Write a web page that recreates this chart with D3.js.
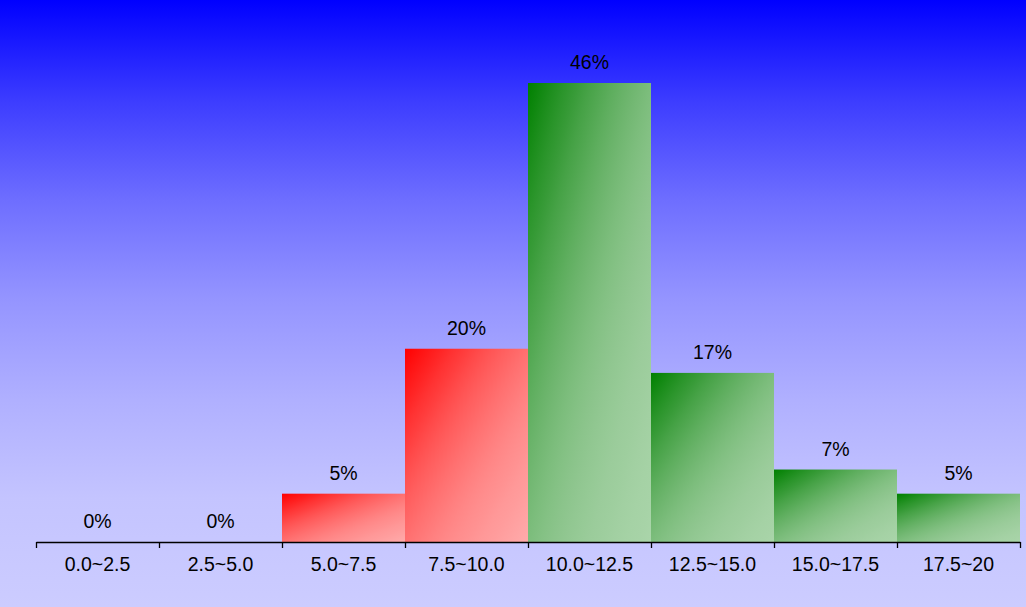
<!DOCTYPE html>
<html>
<head>
<meta charset="utf-8">
<script src="https://cdn.jsdelivr.net/npm/d3@7"></script>
<style>
html,body{margin:0;padding:0;overflow:hidden;}
svg{display:block;font-family:"Liberation Sans",Arial,sans-serif;}
</style>
</head>
<body>
<svg id="chart" width="1026" height="607"></svg>
<script>
const categories = ["0.0~2.5","2.5~5.0","5.0~7.5","7.5~10.0","10.0~12.5","12.5~15.0","15.0~17.5","17.5~20"];
const counts = [0,0,2,8,19,7,3,2];
const barColorGroup = ["red","red","red","red","green","green","green","green"];

const total = d3.sum(counts);
const pct = counts.map(c => c / total);

const W = 1026, H = 607;
const margin = {left:36, right:6, top:83, bottom:65};
const svg = d3.select("#chart");
const defs = svg.append("defs");

const bg = defs.append("linearGradient").attr("id","bg").attr("x1",0).attr("y1",0).attr("x2",0).attr("y2",1);
[[0,"#0000ff"],[0.165,"#3c3cff"],[0.33,"#6e6eff"],[0.49,"#9494ff"],[0.66,"#b0b0ff"],[0.82,"#c4c4ff"],[1,"#ccccff"]]
  .forEach(s => bg.append("stop").attr("offset",s[0]).attr("stop-color",s[1]));
svg.append("rect").attr("width",W).attr("height",H).attr("fill","url(#bg)");

const grads = {red:["#ff0000","#ff7e7e","#ffaaaa"], green:["#008000","#90c690","#aad5aa"]};
Object.entries(grads).forEach(([k,c]) => {
  const g = defs.append("linearGradient").attr("id","g-"+k).attr("x1",0).attr("y1",0).attr("x2",1).attr("y2",1);
  const interp = d3.interpolateRgbBasis(c);
  d3.range(0, 1.0001, 0.05).forEach(t => {
    g.append("stop").attr("offset", t).attr("stop-color", interp(t));
  });
});

const x = d3.scaleBand().domain(categories).range([margin.left, W - margin.right]).padding(0);
const y = d3.scaleLinear().domain([0, d3.max(pct)]).range([H - margin.bottom, margin.top]);

svg.append("g").selectAll("rect").data(categories).join("rect")
  .attr("x", d => x(d))
  .attr("y", (d,i) => y(pct[i]))
  .attr("width", x.bandwidth())
  .attr("height", (d,i) => y(0) - y(pct[i]))
  .attr("fill", (d,i) => "url(#g-" + barColorGroup[i] + ")");

svg.append("g").selectAll("text").data(categories).join("text")
  .attr("x", d => x(d) + x.bandwidth()/2)
  .attr("y", (d,i) => y(pct[i]) - 14)
  .attr("text-anchor","middle")
  .attr("font-size","19.5px")
  .attr("fill","#000")
  .text((d,i) => Math.round(pct[i]*100) + "%");

const xl = d3.scaleLinear().domain([0, categories.length]).range([margin.left, W - margin.right]);
const axis = svg.append("g").attr("transform","translate(0," + y(0) + ")")
  .call(d3.axisBottom(xl).tickValues(d3.range(categories.length + 1)).tickFormat("").tickSize(6).tickSizeOuter(0));
axis.selectAll("path,line").attr("stroke","#000").attr("stroke-width",1.3);

svg.append("g").selectAll("text").data(categories).join("text")
  .attr("x", d => x(d) + x.bandwidth()/2)
  .attr("y", y(0) + 29)
  .attr("text-anchor","middle")
  .attr("font-size","19.5px")
  .attr("fill","#000")
  .text(d => d);
</script>
</body>
</html>
